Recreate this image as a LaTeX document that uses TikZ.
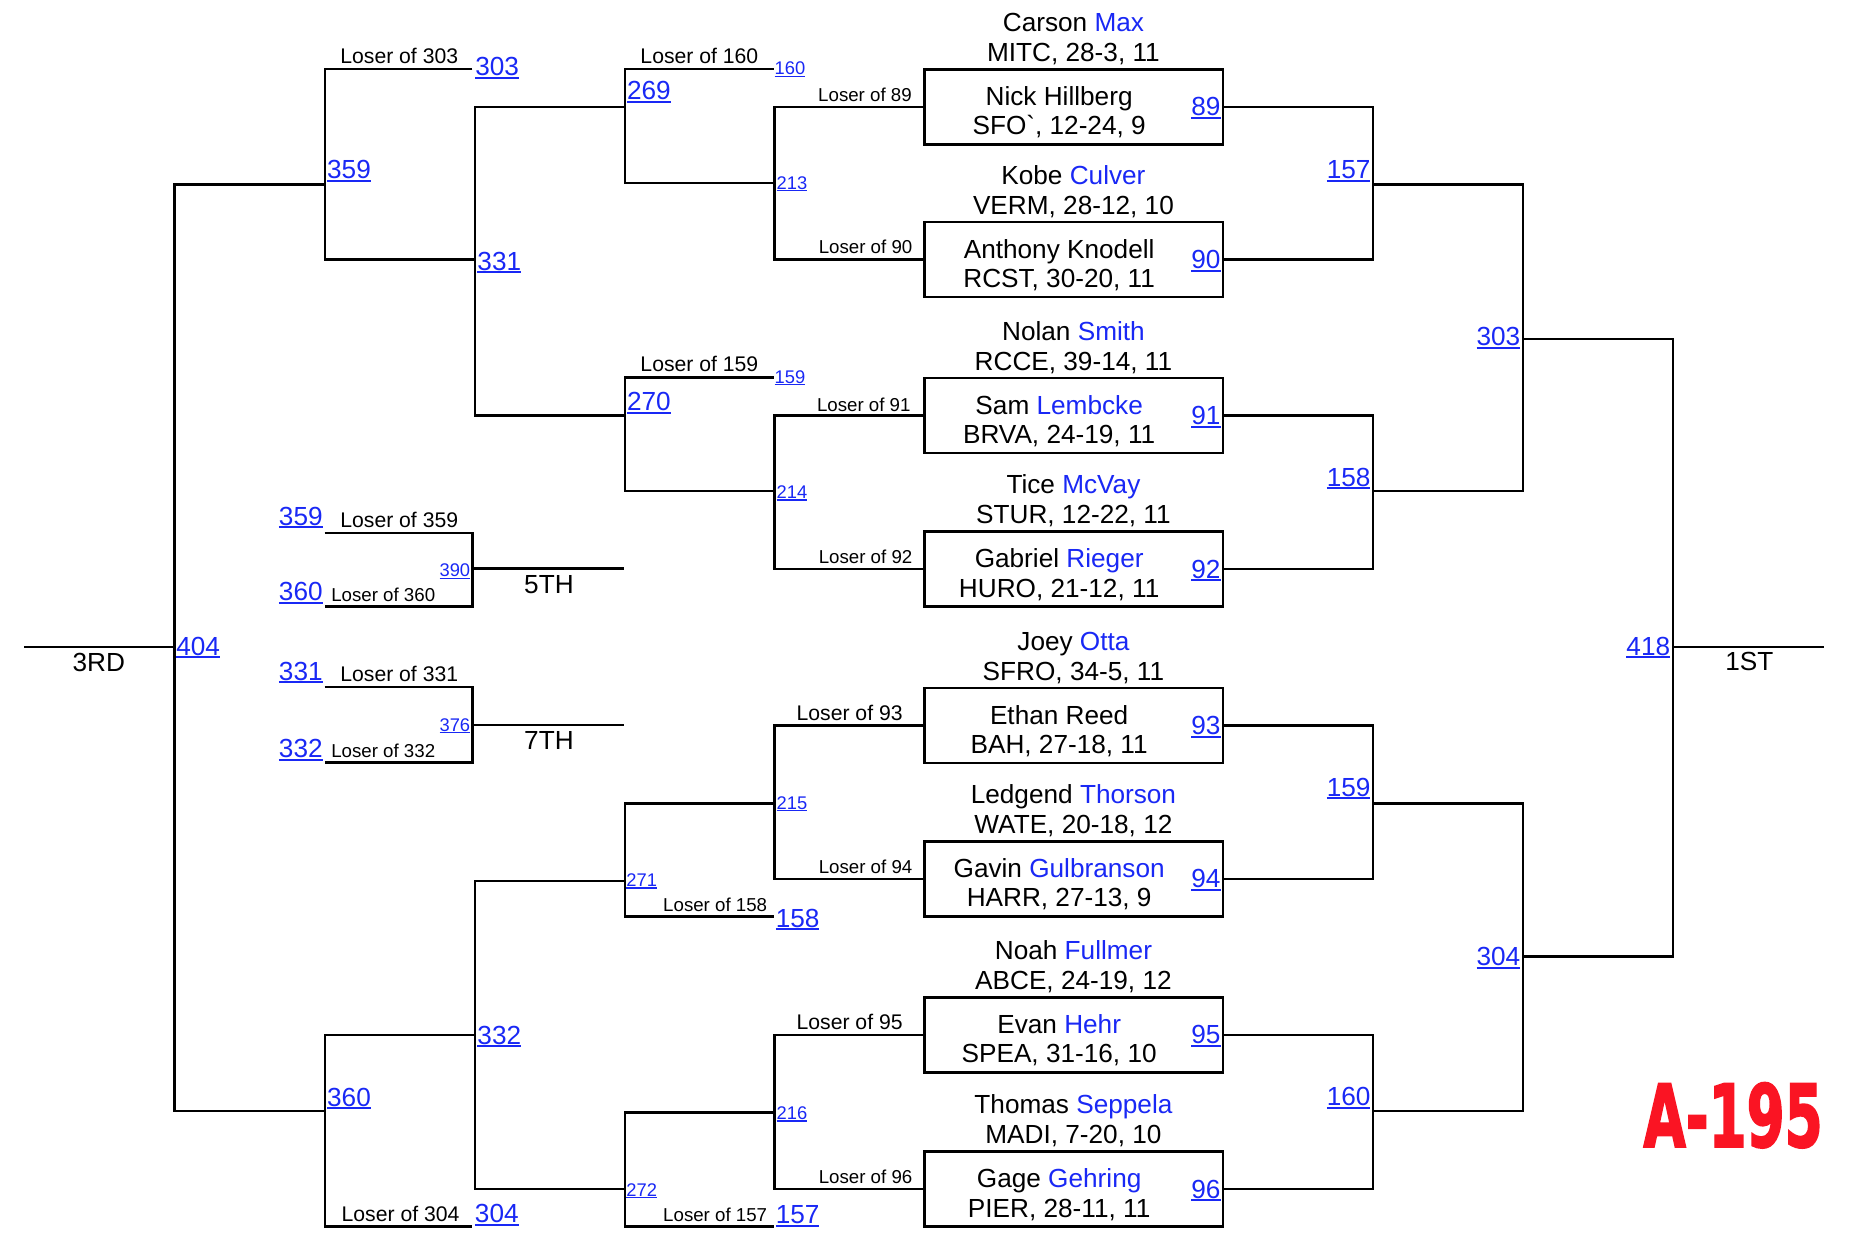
\documentclass[tikz,border=0pt]{standalone}
\usepackage{fontspec}
\setmainfont{Liberation Sans}
\newfontfamily\heavyfont{DejaVu Sans}[BoldFeatures={FakeBold=2.5}]
\usepackage{graphicx}
\definecolor{lb}{RGB}{25,40,245}
\definecolor{rd}{RGB}{250,20,35}
\newcommand\lnk[1]{{\color{lb}\setbox0=\hbox{#1}\rlap{\rule[-0.12em]{\wd0}{0.075em}}\box0}}
\newcommand\bluename[1]{\textcolor{lb}{#1}}
\newcommand\mybox[7]{%
 \node[pbox] (#1) at (902.35,#2) {};
 \node[t11,anchor=base] (#1p) at (902,#2-63.3) {#3};
 \node[t11,anchor=base] (#1q) at (902,#2-38.1) {#4};
 \node[t11,anchor=base] (#1r) at (890,#2-1) {#5};
 \node[t11,anchor=base] (#1s) at (890,#2+23.5) {#6};
 \node[t11,anchor=base east] (#1n) at (1026,#2+7.5) {\lnk{#7}};
}
\begin{document}
\begin{tikzpicture}[x=0.5pt,y=-0.5pt,
 wire/.style={line width=1.05pt, line join=miter},
 pbox/.style={draw, line width=1.05pt, minimum width=125.35pt, minimum height=31.5pt, inner sep=0pt},
 t11/.style={inner sep=0pt, font=\fontsize{11pt}{13pt}\selectfont},
 t9/.style={inner sep=0pt, font=\fontsize{8.9pt}{11pt}\selectfont},
 t8/.style={inner sep=0pt, font=\fontsize{7.85pt}{10pt}\selectfont},
 t7/.style={inner sep=0pt, font=\fontsize{7.7pt}{9pt}\selectfont},
]
\fill[white] (0,0) rectangle (1568,1040);
\useasboundingbox (0,0) rectangle (1568,1040);

% ---- player boxes ----
\mybox{b89}{89.8}{Carson \bluename{Max}}{MITC, 28-3, 11}{Nick Hillberg}{SFO\textasciigrave, 12-24, 9}{89}
\mybox{b90}{218}{Kobe \bluename{Culver}}{VERM, 28-12, 10}{Anthony Knodell}{RCST, 30-20, 11}{90}
\mybox{b91}{349.3}{Nolan \bluename{Smith}}{RCCE, 39-14, 11}{Sam \bluename{Lembcke}}{BRVA, 24-19, 11}{91}
\mybox{b92}{478.2}{Tice \bluename{McVay}}{STUR, 12-22, 11}{Gabriel \bluename{Rieger}}{HURO, 21-12, 11}{92}
\mybox{b93}{609.8}{Joey \bluename{Otta}}{SFRO, 34-5, 11}{Ethan Reed}{BAH, 27-18, 11}{93}
\mybox{b94}{738.6}{Ledgend \bluename{Thorson}}{WATE, 20-18, 12}{Gavin \bluename{Gulbranson}}{HARR, 27-13, 9}{94}
\mybox{b95}{869.7}{Noah \bluename{Fullmer}}{ABCE, 24-19, 12}{Evan \bluename{Hehr}}{SPEA, 31-16, 10}{95}
\mybox{b96}{999.2}{Thomas \bluename{Seppela}}{MADI, 7-20, 10}{Gage \bluename{Gehring}}{PIER, 28-11, 11}{96}

% ---- junction coordinates ----
\coordinate (j157) at (1153.7,155.2);
\coordinate (j158) at (1153.7,412.5);
\coordinate (j159) at (1153.7,675);
\coordinate (j160) at (1153.7,933.6);
\coordinate (j303) at (1279.6,284.9);
\coordinate (j304) at (1279.6,803.9);
\coordinate (j418) at (1405.6,543.7);
\coordinate (e1st) at (1532.3,543.7);

\coordinate (j213) at (651,153.8);
\coordinate (j214) at (651,412.6);
\coordinate (j215) at (651,675);
\coordinate (j216) at (651,935);
\coordinate (j269) at (525,89.8);
\coordinate (j270) at (525,349.3);
\coordinate (j271) at (525,740.3);
\coordinate (j272) at (525,999.2);
\coordinate (j331) at (399,218);
\coordinate (j332) at (399,869.7);
\coordinate (j359) at (273,155.2);
\coordinate (j360) at (273,933.6);
\coordinate (j404) at (146.8,543.7);
\coordinate (e3rd) at (20.3,543.7);

\coordinate (t160) at (650,58);
\coordinate (t159) at (650,317);
\coordinate (t158) at (650,770.3);
\coordinate (t157) at (650,1030.8);
\coordinate (t303) at (397,58);
\coordinate (t304) at (397,1030.8);

\coordinate (c359) at (272.7,447.9);
\coordinate (c360) at (272.7,509.8);
\coordinate (j390) at (397.1,477.8);
\coordinate (e5th) at (524,477.8);
\coordinate (c331) at (272.7,577.3);
\coordinate (c332) at (272.7,640.6);
\coordinate (j376) at (397.1,609);
\coordinate (e7th) at (524,609);

% ---- right bracket ----
\draw[wire] (b89.east) -| (j157) |- (b90.east);
\draw[wire] (b91.east) -| (j158) |- (b92.east);
\draw[wire] (b93.east) -| (j159) |- (b94.east);
\draw[wire] (b95.east) -| (j160) |- (b96.east);
\draw[wire] (j157) -| (j303) |- (j158);
\draw[wire] (j159) -| (j304) |- (j160);
\draw[wire] (j303) -| (j418) |- (j304);
\draw[wire] (j418) -- (e1st);

% ---- left bracket ----
\draw[wire] (b89.west) -| (j213) |- (b90.west);
\draw[wire] (b91.west) -| (j214) |- (b92.west);
\draw[wire] (b93.west) -| (j215) |- (b94.west);
\draw[wire] (b95.west) -| (j216) |- (b96.west);
\draw[wire] (t160) -| (j213 -| j269) -- (j213);
\draw[wire] (t159) -| (j214 -| j270) -- (j214);
\draw[wire] (j215) -- (j215 -| j271) |- (t158);
\draw[wire] (j216) -- (j216 -| j272) |- (t157);
\draw[wire] (j269) -| (j331) |- (j270);
\draw[wire] (j271) -| (j332) |- (j272);
\draw[wire] (t303) -| (j331 -| j359) -- (j331);
\draw[wire] (j332) -| (j360) |- (t304);
\draw[wire] (j359) -| (j404) |- (j360);
\draw[wire] (j404) -- (e3rd);

% ---- consolation ----
\draw[wire] (c359) -| (j390) |- (c360);
\draw[wire] (j390) -- (e5th);
\draw[wire] (c331) -| (j376) |- (c332);
\draw[wire] (j376) -- (e7th);

% ---- large match links ----
\node[t11,anchor=base west] (n303a) at (399,63.5) {\lnk{303}};
\node[t11,anchor=base west] (n359a) at (274.5,150) {\lnk{359}};
\node[t11,anchor=base west] (n331a) at (400.8,227) {\lnk{331}};
\node[t11,anchor=base west] (n269) at (526.5,84) {\lnk{269}};
\node[t11,anchor=base west] (n270) at (526.5,345) {\lnk{270}};
\node[t11,anchor=base west] (n404) at (147.8,550.4) {\lnk{404}};
\node[t11,anchor=base west] (n360a) at (274.5,929.4) {\lnk{360}};
\node[t11,anchor=base west] (n332a) at (400.8,877.3) {\lnk{332}};
\node[t11,anchor=base west] (n304a) at (398.7,1027.5) {\lnk{304}};
\node[t11,anchor=base west] (n158a) at (651.5,779.2) {\lnk{158}};
\node[t11,anchor=base west] (n157a) at (651.5,1028) {\lnk{157}};
\node[t11,anchor=base east] (n157) at (1152,149.9) {\lnk{157}};
\node[t11,anchor=base east] (n158) at (1152,408.4) {\lnk{158}};
\node[t11,anchor=base east] (n159) at (1152,668.9) {\lnk{159}};
\node[t11,anchor=base east] (n160) at (1152,929.1) {\lnk{160}};
\node[t11,anchor=base east] (n303) at (1277.8,290.5) {\lnk{303}};
\node[t11,anchor=base east] (n304) at (1277.8,811.5) {\lnk{304}};
\node[t11,anchor=base east] (n418) at (1403.8,550.4) {\lnk{418}};
\node[t11,anchor=base west] (n359c) at (234,441.4) {\lnk{359}};
\node[t11,anchor=base west] (n360c) at (234,505) {\lnk{360}};
\node[t11,anchor=base west] (n331c) at (234,571.4) {\lnk{331}};
\node[t11,anchor=base west] (n332c) at (234,636.4) {\lnk{332}};

% ---- small match links ----
\node[t7,anchor=base west] (s160) at (650.6,63) {\lnk{160}};
\node[t7,anchor=base west] (s159) at (650.6,322) {\lnk{159}};
\node[t7,anchor=base west] (s213) at (652.2,159) {\lnk{213}};
\node[t7,anchor=base west] (s214) at (652.2,419) {\lnk{214}};
\node[t7,anchor=base west] (s215) at (652.2,680) {\lnk{215}};
\node[t7,anchor=base west] (s216) at (652.2,940.6) {\lnk{216}};
\node[t7,anchor=base west] (s271) at (526,745) {\lnk{271}};
\node[t7,anchor=base west] (s272) at (526,1005) {\lnk{272}};
\node[t7,anchor=base east] (s390) at (395.5,484.6) {\lnk{390}};
\node[t7,anchor=base east] (s376) at (395.5,614.3) {\lnk{376}};

% ---- loser labels ----
\node[t9,anchor=base west] (l303) at (285.6,53.2) {Loser of 303};
\node[t9,anchor=base west] (l160) at (537.8,53.2) {Loser of 160};
\node[t9,anchor=base west] (l159) at (537.8,312) {Loser of 159};
\node[t9,anchor=base west] (l93) at (669,605.6) {Loser of 93};
\node[t9,anchor=base west] (l95) at (669,864.8) {Loser of 95};
\node[t9,anchor=base west] (l304) at (286.7,1026) {Loser of 304};
\node[t9,anchor=base west] (l359) at (285.6,443) {Loser of 359};
\node[t9,anchor=base west] (l331) at (285.6,572.8) {Loser of 331};
\node[t8,anchor=base east] (l89) at (766.5,85.4) {Loser of 89};
\node[t8,anchor=base east] (l90) at (767,213.4) {Loser of 90};
\node[t8,anchor=base east] (l91) at (765.5,345.5) {Loser of 91};
\node[t8,anchor=base east] (l92) at (767,473.4) {Loser of 92};
\node[t8,anchor=base east] (l94) at (767,733.9) {Loser of 94};
\node[t8,anchor=base east] (l96) at (767,994.4) {Loser of 96};
\node[t8,anchor=base east] (l158) at (645,765.5) {Loser of 158};
\node[t8,anchor=base east] (l157) at (645,1026) {Loser of 157};
\node[t8,anchor=base west] (l360) at (278,505.6) {Loser of 360};
\node[t8,anchor=base west] (l332) at (278,636.7) {Loser of 332};

% ---- place labels ----
\node[t11,anchor=base] (p3) at (83,564.4) {3RD};
\node[t11,anchor=base] (p1) at (1470,563.6) {1ST};
\node[t11,anchor=base] (p5) at (461.3,498.6) {5TH};
\node[t11,anchor=base] (p7) at (461.3,629.4) {7TH};

% ---- code ----
\node[inner sep=0pt,anchor=south west,text=rd] (code) at (1380.6,965)
 {\resizebox{75.3pt}{26.9pt}{\heavyfont\bfseries A-195}};
\end{tikzpicture}
\end{document}
